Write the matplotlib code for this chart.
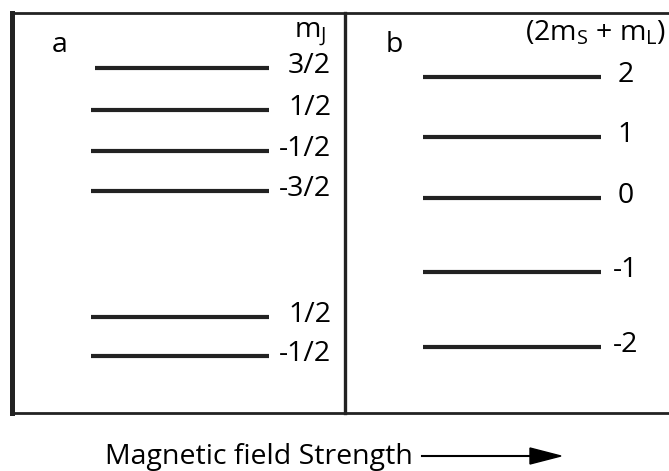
import matplotlib.pyplot as plt

plt.rcParams['font.family'] = ['Open Sans', 'DejaVu Sans']
plt.rcParams['mathtext.fontset'] = 'custom'
plt.rcParams['mathtext.rm'] = 'Open Sans'
plt.rcParams['mathtext.it'] = 'Open Sans'

# niveis de energia (unidades arbitrarias)
niveis_a = [345, 303, 262, 222, 96, 57]
rotulos_a = ["3/2", "1/2", "-1/2", "-3/2", "1/2", "-1/2"]
niveis_b = [336, 276, 215, 141, 66]
rotulos_b = ["2", "1", "0", "-1", "-2"]

fig = plt.figure(figsize=(6.69, 4.71), dpi=100)
W, H = 669, 471
fs = 20.5

# painel a
ax_a = fig.add_axes([12 / W, (H - 413) / H, (345 - 12) / W, 400 / H])
ax_a.set_xlim(12, 345)
ax_a.set_ylim(0, 400)
for y, r in zip(niveis_a, rotulos_a):
    x0 = 95 if y == niveis_a[0] else 91
    ax_a.plot([x0, 269], [y, y], color='#222222', lw=3.0, solid_capstyle='butt')
    ax_a.text(331, y + 2, r, ha='right', va='center', fontsize=fs)
ax_a.text(52, 368, "a", fontsize=fs, va='center')
ax_a.text(326, 378, r"m$_{\mathrm{J}}$", ha='right', va='center', fontsize=fs)

# painel b
ax_b = fig.add_axes([345 / W, (H - 413) / H, (669 - 345) / W, 400 / H])
ax_b.patch.set_visible(False)
ax_b.set_xlim(345, 669)
ax_b.set_ylim(0, 400)
for y, r in zip(niveis_b, rotulos_b):
    ax_b.plot([423, 601], [y, y], color='#222222', lw=3.0, solid_capstyle='butt')
    ax_b.text(626, y + 2, r, ha='center', va='center', fontsize=fs)
ax_b.text(386, 368, "b", fontsize=fs, va='center')
ax_b.text(666, 380, r"(2m$_{\mathrm{S}}$ + m$_{\mathrm{L}}$)", ha='right', va='center',
          fontsize=fs, clip_on=False)

for ax in (ax_a, ax_b):
    ax.set_xticks([])
    ax.set_yticks([])
    for s in ax.spines.values():
        s.set_color('#222222')
ax_a.spines['left'].set_linewidth(3.6)
ax_a.spines['top'].set_linewidth(2.0)
ax_a.spines['bottom'].set_linewidth(2.0)
ax_a.spines['right'].set_linewidth(2.4)
ax_b.spines['left'].set_visible(False)
ax_b.spines['right'].set_visible(False)
ax_b.spines['top'].set_linewidth(2.0)
ax_b.spines['bottom'].set_linewidth(2.0)

# rotulo do eixo com seta
fig.text(259 / W, 1 - 457 / H, "Magnetic field Strength", ha='center', va='center', fontsize=fs)
fig.add_artist(plt.Line2D([422 / W, 545 / W], [1 - 456 / H, 1 - 456 / H], color='black', lw=1.5))
fig.patches.append(plt.Polygon([[530 / W, 1 - 448 / H], [561 / W, 1 - 456 / H], [530 / W, 1 - 464 / H]],
                               closed=True, color='black', transform=fig.transFigure))

fig.savefig("out.png", dpi=100)
